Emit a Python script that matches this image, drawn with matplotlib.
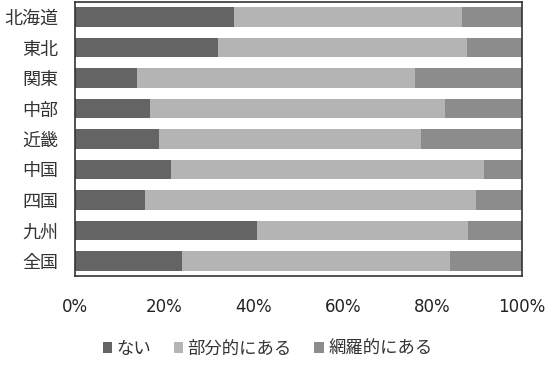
import numpy as np
import matplotlib
matplotlib.use('Agg')
from matplotlib import pyplot as plt
from matplotlib.patches import Patch

plt.rcParams['font.family'] = ['Noto Sans CJK JP', 'DejaVu Sans']

regions = ['北海道', '東北', '関東', '中部', '近畿', '中国', '四国', '九州', '全国']
nai = [35.5, 32.1, 13.9, 16.8, 18.8, 21.6, 15.7, 40.8, 24.0]
bubun = [51.1, 55.5, 62.2, 65.9, 58.7, 69.9, 74.0, 47.1, 59.8]
moura = [13.4, 12.4, 23.9, 17.3, 22.5, 8.5, 10.3, 12.1, 16.2]
labels = ['ない', '部分的にある', '網羅的にある']
colors = ['#646464', '#b4b4b4', '#8c8c8c']


def main():
    fig = plt.figure(figsize=(5.46, 3.71), dpi=100)
    ax = fig.add_axes([0.137, 0.256, 0.819, 0.739])

    y = np.arange(len(regions))
    left = np.zeros(len(regions))
    for vals, lab, col in zip([nai, bubun, moura], labels, colors):
        ax.barh(y, vals, left=left, height=0.64, color=col, label=lab, edgecolor='none')
        left = left + np.array(vals)

    ax.set_xlim(0, 100)
    ax.set_ylim(len(regions) - 0.5, -0.5)
    ax.set_yticks(y)
    ax.set_yticklabels(regions, fontsize=13, color='#333333')
    ax.set_xticks([0, 20, 40, 60, 80, 100])
    ax.set_xticklabels(['0%', '20%', '40%', '60%', '80%', '100%'], fontsize=12,
                       family='DejaVu Sans', color='#222222')
    ax.tick_params(axis='both', length=0)
    ax.tick_params(axis='x', pad=16)
    ax.tick_params(axis='y', pad=12)
    for sp in ax.spines.values():
        sp.set_color('#333333')
        sp.set_linewidth(1.2)

    handles = [Patch(facecolor=c, edgecolor='none') for c in colors]
    fig.legend(handles, labels, loc='center', bbox_to_anchor=(0.49, 0.06), ncol=3,
               frameon=False, fontsize=12.5, handlelength=0.55, handleheight=0.55,
               handletextpad=0.25, columnspacing=1.3,
               labelcolor='#333333')

    fig.savefig('out.png', dpi=100)
    plt.close(fig)


if __name__ == '__main__':
    main()
